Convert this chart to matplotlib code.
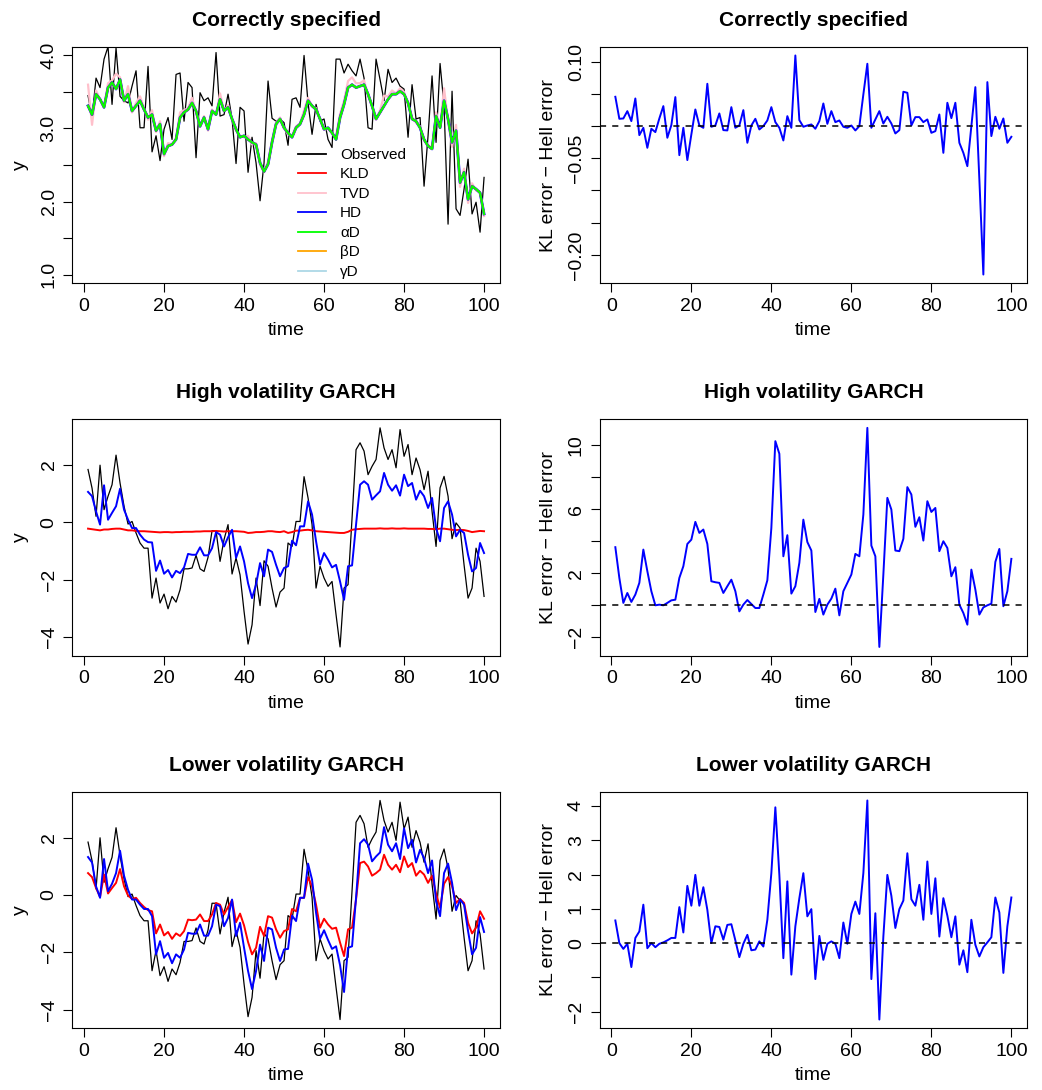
import matplotlib.pyplot as plt
import numpy as np

plt.rcParams['font.family'] = ['Liberation Sans', 'DejaVu Sans']

# Data

time = np.arange(1, 101)

# correctly specified: observed series and fitted means
obs_cs = [3.45, 3.15, 3.69, 3.56, 3.95, 4.12, 3.33, 4.10, 3.44, 3.38,
          3.35, 3.58, 3.79, 3.01, 3.01, 3.85, 2.68, 2.90, 2.56, 2.99,
          3.15, 2.85, 3.74, 3.76, 3.10, 3.63, 3.56, 2.60, 3.49, 3.38,
          3.42, 3.31, 4.04, 3.17, 3.19, 3.47, 3.13, 2.52, 3.29, 3.24,
          2.40, 2.88, 2.53, 2.01, 2.53, 3.65, 3.14, 3.10, 3.13, 3.08,
          2.77, 3.40, 3.42, 3.29, 4.00, 3.35, 2.92, 3.33, 3.10, 3.13,
          2.85, 2.74, 3.95, 3.95, 3.76, 3.88, 3.79, 3.72, 3.95, 3.69,
          3.01, 2.99, 3.95, 3.67, 3.38, 3.81, 3.63, 3.69, 3.58, 3.54,
          2.88, 3.60, 3.13, 3.15, 2.21, 2.90, 3.72, 2.81, 3.89, 3.31,
          1.69, 3.51, 1.90, 1.81, 2.17, 2.58, 1.83, 1.99, 1.58, 2.33]
fit_cs = [3.31, 3.19, 3.47, 3.40, 3.29, 3.56, 3.63, 3.54, 3.67, 3.38,
          3.47, 3.24, 3.31, 3.38, 3.26, 3.15, 3.19, 2.97, 3.06, 2.65,
          2.76, 2.78, 2.85, 3.15, 3.22, 3.26, 3.35, 3.24, 3.03, 3.15,
          2.99, 3.24, 3.19, 3.40, 3.24, 3.29, 3.13, 2.99, 2.88, 2.90,
          2.85, 2.81, 2.78, 2.53, 2.41, 2.51, 2.81, 3.06, 3.13, 3.01,
          2.94, 2.88, 3.01, 3.06, 3.19, 3.38, 3.31, 3.26, 3.13, 2.99,
          3.01, 2.94, 2.85, 3.15, 3.33, 3.56, 3.60, 3.56, 3.58, 3.60,
          3.47, 3.31, 3.13, 3.22, 3.31, 3.40, 3.47, 3.47, 3.51, 3.47,
          3.35, 3.13, 3.10, 3.01, 2.85, 2.76, 2.72, 3.17, 3.01, 3.38,
          3.13, 2.81, 2.97, 2.26, 2.40, 2.03, 2.21, 2.17, 2.12, 1.83]
tvd_cs = [3.60, 3.05, 3.52, 3.40, 3.29, 3.62, 3.66, 3.75, 3.70, 3.36,
          3.58, 3.22, 3.35, 3.44, 3.28, 3.12, 3.25, 2.95, 3.10, 2.62,
          2.80, 2.78, 2.87, 3.22, 3.25, 3.28, 3.42, 3.22, 3.03, 3.17,
          2.97, 3.26, 3.19, 3.48, 3.24, 3.32, 3.12, 2.97, 2.90, 2.88,
          2.90, 2.78, 2.80, 2.50, 2.40, 2.55, 2.84, 3.08, 3.15, 3.00,
          2.92, 2.90, 3.03, 3.07, 3.25, 3.42, 3.30, 3.28, 3.12, 2.98,
          3.00, 2.93, 2.90, 3.20, 3.38, 3.65, 3.70, 3.62, 3.62, 3.66,
          3.45, 3.30, 3.12, 3.25, 3.45, 3.44, 3.52, 3.48, 3.55, 3.50,
          3.33, 3.15, 3.08, 3.03, 2.83, 2.78, 2.72, 3.22, 3.02, 3.55,
          3.10, 2.75, 3.05, 2.20, 2.45, 1.98, 2.25, 2.15, 2.13, 1.80]
diff_cs = [0.0456, 0.0114, 0.0119, 0.0233, 0.0078, 0.0430, -0.0140, -0.0026, -0.0337, -0.0041,
           -0.0093, 0.0119, 0.0311, -0.0181, 0.0016, 0.0451, -0.0451, -0.0026, -0.0528, -0.0130,
           0.0259, 0.0010, -0.0026, 0.0658, -0.0010, 0.0010, 0.0197, -0.0062, -0.0067, 0.0295,
           -0.0026, 0.0010, 0.0249, -0.0259, 0.0010, 0.0114, -0.0052, 0.0000, 0.0088, 0.0295,
           0.0062, -0.0026, -0.0223, 0.0155, -0.0026, 0.1098, 0.0093, -0.0010, 0.0010, 0.0026,
           -0.0041, 0.0078, 0.0352, 0.0036, 0.0233, 0.0062, 0.0088, -0.0010, -0.0026, 0.0010,
           -0.0067, 0.0000, 0.0492, 0.0969, -0.0026, 0.0104, 0.0233, 0.0041, 0.0145, 0.0041,
           -0.0114, -0.0062, 0.0534, 0.0518, 0.0010, 0.0140, 0.0140, 0.0062, 0.0104, -0.0104,
           -0.0078, 0.0181, -0.0415, 0.0363, 0.0124, 0.0363, -0.0259, -0.0415, -0.0622, 0.0000,
           0.0606, -0.0829, -0.2306, 0.0684, -0.0155, 0.0145, -0.0041, 0.0119, -0.0259, -0.0166]

# GARCH observed series (same for both GARCH settings)
obs_garch = [1.84, 1.19, 0.21, 1.99, 0.44, 0.91, 1.31, 2.34, 1.37, 0.56,
             -0.06, 0.03, -0.37, -0.72, -0.90, -0.90, -2.64, -1.94, -2.81, -2.50,
             -3.01, -2.58, -2.78, -2.35, -1.62, -1.62, -1.59, -1.15, -1.62, -1.71,
             -1.22, -0.29, -0.29, -1.36, -0.60, -0.08, -1.80, -1.24, -1.83, -3.10,
             -4.24, -3.57, -1.94, -2.90, -1.34, -1.53, -2.29, -2.95, -2.43, -2.29,
             -0.72, -0.84, 0.03, 0.03, 1.59, 0.85, -0.08, -2.29, -1.53, -1.94,
             -2.23, -2.06, -3.22, -4.34, -2.29, -2.17, 0.15, 2.53, 2.77, 2.48,
             1.66, 1.95, 2.19, 3.29, 2.59, 2.19, 2.53, 1.90, 3.23, 2.30,
             2.71, 1.66, 2.24, 1.83, 1.14, 1.78, 0.38, -0.84, 1.20, 1.60,
             0.91, -0.57, -0.02, -0.20, -1.48, -2.64, -2.29, -0.90, -1.36, -2.58]

# high volatility GARCH
kld_high = [-0.22, -0.24, -0.26, -0.28, -0.25, -0.25, -0.23, -0.22, -0.22, -0.25,
            -0.28, -0.28, -0.30, -0.31, -0.31, -0.32, -0.33, -0.34, -0.35, -0.34,
            -0.34, -0.35, -0.34, -0.34, -0.33, -0.33, -0.33, -0.32, -0.32, -0.31,
            -0.31, -0.31, -0.30, -0.31, -0.32, -0.31, -0.31, -0.31, -0.32, -0.33,
            -0.37, -0.36, -0.34, -0.34, -0.33, -0.31, -0.31, -0.33, -0.34, -0.31,
            -0.37, -0.34, -0.29, -0.29, -0.27, -0.26, -0.28, -0.31, -0.32, -0.33,
            -0.34, -0.35, -0.36, -0.37, -0.37, -0.33, -0.26, -0.24, -0.23, -0.22,
            -0.22, -0.22, -0.22, -0.21, -0.22, -0.22, -0.21, -0.22, -0.22, -0.21,
            -0.22, -0.22, -0.22, -0.22, -0.22, -0.23, -0.23, -0.24, -0.22, -0.22,
            -0.24, -0.26, -0.27, -0.26, -0.27, -0.30, -0.34, -0.32, -0.30, -0.31]
hd_high = [1.06, 0.91, 0.38, -0.08, 1.29, 0.09, 0.33, 0.56, 1.17, 0.44,
           0.09, -0.20, -0.20, -0.43, -0.60, -0.69, -0.70, -1.69, -1.33, -1.79,
           -1.66, -1.92, -1.69, -1.77, -1.57, -1.10, -1.13, -1.13, -0.87, -1.15,
           -1.15, -0.90, -0.34, -0.43, -0.84, -0.52, -0.26, -1.24, -0.84, -1.36,
           -2.12, -2.64, -2.17, -1.42, -1.88, -0.95, -1.03, -1.48, -1.88, -1.59,
           -1.53, -0.64, -0.80, -0.14, -0.14, 0.73, 0.27, -0.66, -1.47, -1.07,
           -1.30, -1.57, -1.48, -2.06, -2.70, -1.53, -1.50, -0.08, 1.31, 1.43,
           1.31, 0.79, 0.94, 1.08, 1.72, 1.31, 1.10, 1.29, 0.93, 1.66,
           1.26, 1.37, 0.79, 1.10, 0.91, 0.50, 0.85, -0.20, -0.66, 0.50,
           0.73, 0.27, -0.49, -0.26, -0.37, -1.13, -1.71, -1.59, -0.72, -1.07]
diff_high = [3.63, 1.71, 0.15, 0.77, 0.21, 0.67, 1.40, 3.48, 2.13, 0.88,
             0.00, 0.04, 0.00, 0.15, 0.31, 0.35, 1.71, 2.44, 3.83, 4.10,
             5.21, 4.52, 4.73, 3.83, 1.50, 1.44, 1.40, 0.77, 1.19, 1.60,
             0.88, -0.38, 0.04, 0.33, 0.08, -0.17, -0.17, 0.67, 1.56, 4.83,
             10.25, 9.46, 3.06, 4.38, 0.73, 1.19, 2.65, 5.35, 3.95, 3.42,
             -0.42, 0.40, -0.58, 0.04, 0.42, 1.04, -0.63, 0.88, 1.40, 1.92,
             3.21, 3.06, 5.67, 11.08, 3.73, 3.06, -2.60, 1.92, 6.71, 5.98,
             3.42, 3.38, 4.15, 7.38, 6.92, 4.90, 5.50, 4.04, 6.50, 5.83,
             6.08, 3.38, 4.00, 3.58, 1.81, 2.38, 0.04, -0.48, -1.21, 2.23,
             0.98, -0.58, -0.13, 0.00, 0.10, 2.71, 3.52, -0.06, 0.88, 2.90]

# lower volatility GARCH
kld_low = [0.76, 0.62, 0.24, -0.07, 0.71, 0.05, 0.24, 0.42, 0.90, 0.30,
           -0.02, -0.14, -0.10, -0.28, -0.42, -0.53, -0.57, -1.34, -1.03, -1.41,
           -1.29, -1.53, -1.34, -1.43, -1.26, -0.86, -0.88, -0.86, -0.68, -0.91,
           -0.91, -0.68, -0.28, -0.34, -0.68, -0.42, -0.18, -0.95, -0.65, -1.06,
           -1.64, -2.07, -1.84, -1.11, -1.43, -0.74, -0.79, -1.20, -1.49, -1.26,
           -1.20, -0.49, -0.57, -0.10, -0.10, 0.62, 0.30, -0.34, -1.14, -0.83,
           -1.03, -1.18, -1.14, -1.66, -2.13, -1.20, -1.14, -0.16, 1.11, 1.16,
           0.99, 0.67, 0.76, 0.88, 1.40, 1.05, 0.88, 1.05, 0.79, 1.34,
           0.97, 1.11, 0.67, 0.84, 0.71, 0.42, 0.67, 0.05, -0.45, 0.39,
           0.62, 0.30, -0.28, -0.14, -0.28, -0.97, -1.34, -1.14, -0.57, -0.83]
hd_low = [1.32, 1.13, 0.30, -0.10, 1.25, 0.13, 0.39, 0.76, 1.54, 0.67,
          0.18, -0.16, -0.16, -0.34, -0.49, -0.49, -0.74, -2.07, -1.61, -2.19,
          -2.02, -2.38, -2.07, -2.19, -1.90, -1.32, -1.35, -1.35, -1.03, -1.42,
          -1.42, -1.09, -0.34, -0.39, -1.09, -0.80, -0.16, -1.43, -0.97, -1.84,
          -2.65, -3.28, -2.65, -1.73, -2.30, -1.14, -1.20, -1.84, -2.30, -1.90,
          -1.88, -0.72, -0.91, -0.10, -0.10, 1.09, 0.53, -0.62, -1.53, -1.23,
          -1.57, -1.88, -1.79, -2.45, -3.38, -1.84, -1.79, -0.10, 1.80, 1.94,
          1.75, 1.17, 1.34, 1.48, 2.36, 1.75, 1.52, 1.80, 1.25, 2.32,
          1.63, 1.92, 1.13, 1.57, 1.28, 0.76, 1.20, -0.22, -0.74, 0.76,
          1.09, 0.42, -0.53, -0.16, -0.34, -1.26, -2.07, -1.84, -0.77, -1.29]
diff_low = [0.66, 0.00, -0.17, -0.02, -0.70, 0.15, 0.34, 1.12, -0.15, 0.00,
            -0.12, -0.02, 0.02, 0.08, 0.15, 0.15, 1.05, 0.31, 1.67, 1.09,
            1.99, 1.09, 1.63, 0.97, 0.00, 0.49, 0.47, 0.10, 0.53, 0.55,
            0.08, -0.41, -0.02, 0.24, -0.21, -0.19, 0.05, -0.10, 0.68, 2.04,
            3.96, 1.99, -0.44, 1.80, -0.92, 0.49, 1.31, 2.04, 0.78, 0.99,
            -1.05, 0.21, -0.49, -0.02, 0.05, -0.02, -0.44, 0.60, -0.02, 0.85,
            1.21, 0.85, 2.04, 4.16, -1.05, 0.87, -2.23, 0.19, 1.99, 1.38,
            0.44, 0.99, 1.24, 2.62, 1.28, 1.09, 1.70, 0.68, 2.38, 0.85,
            1.89, 0.19, 1.31, 0.80, 0.17, 0.78, -0.63, -0.21, -0.85, 0.68,
            -0.05, -0.39, -0.12, 0.02, 0.17, 1.33, 0.89, -0.87, 0.49, 1.33]

titles = ['Correctly specified', 'High volatility GARCH', 'Lower volatility GARCH']
diff_label = 'KL error \u2212 Hell error'


# Plotting (R base-graphics look)

W, H = 1042, 1090
fig = plt.figure(figsize=(W / 100, H / 100), dpi=100)
col_x = [72.2 / W, 599.5 / W]
ax_w = 427.7 / W
row_y = [1 - 283.3 / H, 1 - 655.7 / H, 1 - 1028.3 / H]
ax_h = 236.6 / H


def r_style(ax, title, ylabel, yticks, ylabels):
    ax.set_title(title, fontweight='bold', fontsize=15, pad=15)
    ax.set_xticks([0, 20, 40, 60, 80, 100])
    ax.set_yticks(yticks)
    ax.set_yticklabels(ylabels, rotation=90, va='center')
    ax.tick_params(direction='out', length=6.5, width=0.8, labelsize=14, pad=4, colors='black')
    ax.set_xlabel('time', fontsize=14, va='center')
    ax.xaxis.set_label_coords(0.5, -0.2)
    ax.set_ylabel(ylabel, fontsize=14, va='center')
    ax.yaxis.set_label_coords(-0.12, 0.5)
    for sp in ax.spines.values():
        sp.set_linewidth(0.8)


def r_limits(ax, values):
    lo, hi = min(values), max(values)
    pad = 0.04 * (hi - lo)
    ax.set_ylim(lo - pad, hi + pad)
    ax.set_xlim(1 - 0.04 * 99, 100 + 0.04 * 99)


# --- row 1, left: correctly specified fits
ax = fig.add_axes([col_x[0], row_y[0], ax_w, ax_h])
ax.plot(time, obs_cs, color='black', lw=0.9, label='Observed')
ax.plot(time, fit_cs, color='lightblue', lw=1.3)
ax.plot(time, fit_cs, color='red', lw=1.3)
ax.plot(time, tvd_cs, color='pink', lw=1.6)
ax.plot(time, fit_cs, color='blue', lw=2.0)
ax.plot(time, fit_cs, color='orange', lw=1.4)
ax.plot(time, fit_cs, color='#00FF00', lw=1.4)
ax.set_ylim(1 - 0.12, 4 + 0.12)
ax.set_xlim(1 - 0.04 * 99, 100 + 0.04 * 99)
r_style(ax, titles[0], 'y', [1.0, 1.5, 2.0, 2.5, 3.0, 3.5, 4.0],
        ['1.0', '', '2.0', '', '3.0', '', '4.0'])
leg_names = ['Observed', 'KLD', 'TVD', 'HD', '\u03b1D', '\u03b2D', '\u03b3D']
leg_cols = ['black', 'red', 'pink', 'blue', '#00FF00', 'orange', 'lightblue']
handles = [plt.Line2D([], [], color=c, lw=1.3) for c in leg_cols]
ax.legend(handles, leg_names, loc='upper left', bbox_to_anchor=(0.528, 0.572),
          frameon=False, fontsize=11, handlelength=1.85, handletextpad=0.9,
          labelspacing=0.36, borderpad=0, borderaxespad=0)

# --- row 1, right
ax = fig.add_axes([col_x[1], row_y[0], ax_w, ax_h])
ax.plot(time, diff_cs, color='blue', lw=1.4)
ax.axhline(0, color='black', ls=(0, (4, 4)), lw=1.1)
r_limits(ax, diff_cs)
r_style(ax, titles[0], diff_label, [-0.20, -0.15, -0.10, -0.05, 0.0, 0.05, 0.10],
        ['\u22120.20', '', '', '\u22120.05', '', '', '0.10'])

# --- rows 2 and 3, left
for row, kld, hd in [(1, kld_high, hd_high), (2, kld_low, hd_low)]:
    ax = fig.add_axes([col_x[0], row_y[row], ax_w, ax_h])
    ax.plot(time, obs_garch, color='black', lw=0.9)
    ax.plot(time, kld, color='red', lw=1.4)
    ax.plot(time, hd, color='blue', lw=1.4)
    r_limits(ax, obs_garch)
    r_style(ax, titles[row], 'y', [-4, -2, 0, 2], ['\u22124', '\u22122', '0', '2'])

# --- row 2, right
ax = fig.add_axes([col_x[1], row_y[1], ax_w, ax_h])
ax.plot(time, diff_high, color='blue', lw=1.4)
ax.axhline(0, color='black', ls=(0, (4, 4)), lw=1.1)
r_limits(ax, diff_high)
r_style(ax, titles[1], diff_label, [-2, 0, 2, 4, 6, 8, 10],
        ['\u22122', '', '2', '', '6', '', '10'])

# --- row 3, right
ax = fig.add_axes([col_x[1], row_y[2], ax_w, ax_h])
ax.plot(time, diff_low, color='blue', lw=1.4)
ax.axhline(0, color='black', ls=(0, (4, 4)), lw=1.1)
r_limits(ax, diff_low)
r_style(ax, titles[2], diff_label, [-2, -1, 0, 1, 2, 3, 4],
        ['\u22122', '', '0', '1', '2', '3', '4'])

fig.savefig('out.png', dpi=100)
